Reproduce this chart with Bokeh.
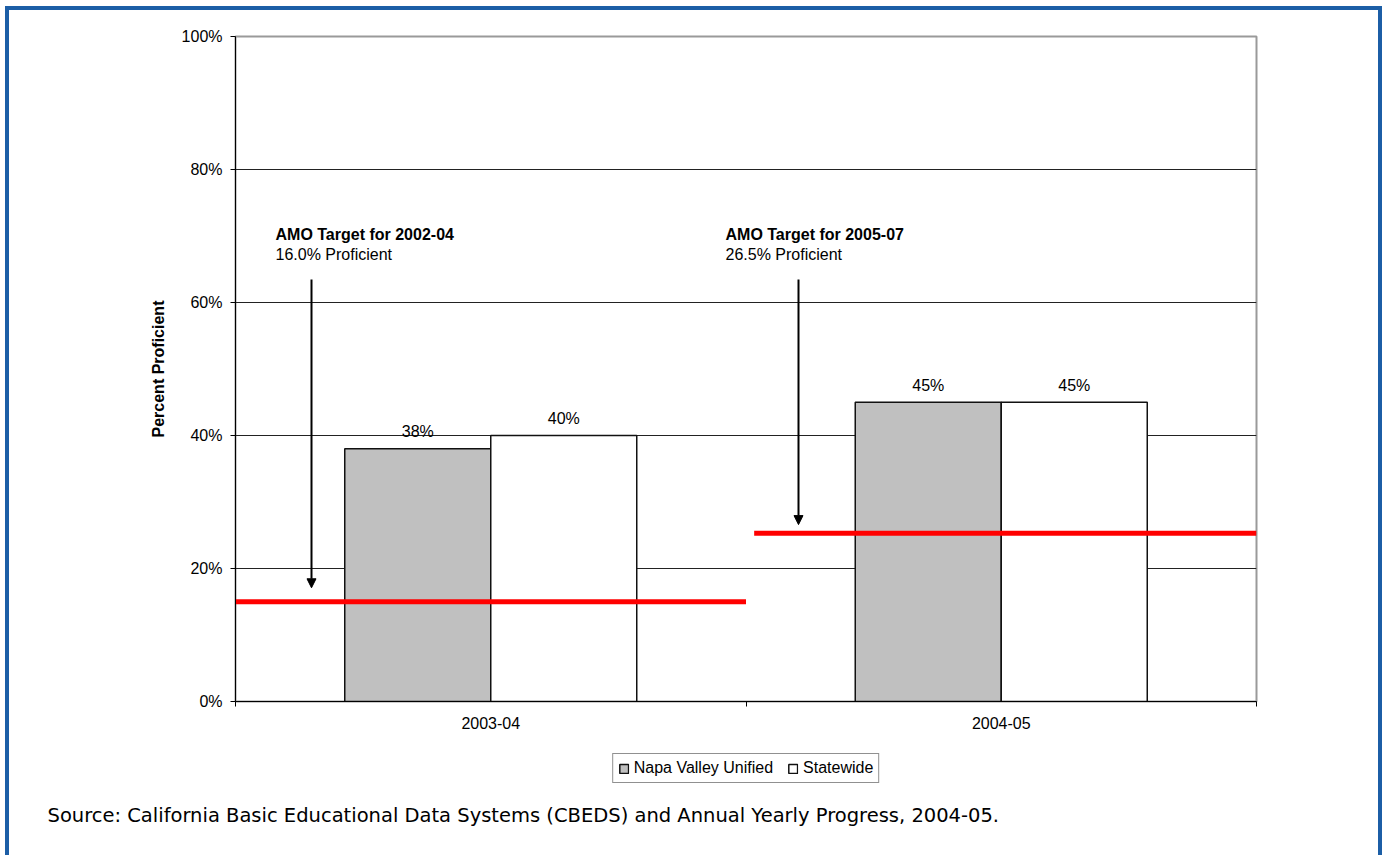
import numpy as np
from bokeh.plotting import figure
from bokeh.layouts import column
from bokeh.models import (Range1d, FixedTicker, Legend, LegendItem, Label, Arrow,
                          NormalHead, Title, Spacer)
from bokeh.core.properties import value
from bokeh.embed import file_html
from bokeh.resources import INLINE

# ---------------- data ----------------
years = ["2003-04", "2004-05"]
series_names = ["Napa Valley Unified", "Statewide"]
series_colors = ["#c0c0c0", "#ffffff"]
napa = [38, 45]
statewide = [40, 45]
amo_targets = [15.0, 25.3]
amo_titles = ["AMO Target for 2002-04", "AMO Target for 2005-07"]
amo_subtitles = ["16.0% Proficient", "26.5% Proficient"]
y_ticks = [0, 20, 40, 60, 80, 100]
y_tick_labels = ["0%", "20%", "40%", "60%", "80%", "100%"]
y_title = "Percent Proficient"
source_note = ("Source: California Basic Educational Data Systems (CBEDS) and "
               "Annual Yearly Progress, 2004-05.")

# ---------------- layout geometry (pixels) ----------------
W, H = 1385, 855
FL, FR, FT, FB = 235, 1256, 36, 701
CHART_H = 745
FOOT_H = 81
NCAT = len(years)
YMAX = 100


def dx(px):
    return (px - FL) / (FR - FL) * NCAT


def dy(py):
    return (FB - py) / (FB - FT) * YMAX


FONT = value("Liberation Sans")
BLUE = "#1c5ea6"

p = figure(width=W, height=CHART_H, output_backend="svg", toolbar_location=None,
           x_range=Range1d(0, NCAT), y_range=Range1d(0, YMAX),
           min_border_left=FL, min_border_right=W - FR,
           min_border_top=FT, min_border_bottom=CHART_H - FB)
p.background_fill_color = "white"
p.border_fill_alpha = 0
p.outline_line_color = "#9a9a9a"
p.outline_line_width = 2

# grid
p.xgrid.visible = False
p.ygrid.ticker = FixedTicker(ticks=y_ticks[1:-1])
p.ygrid.grid_line_color = "#222222"
p.ygrid.grid_line_width = 1

# y axis
yax = p.yaxis[0]
yax.ticker = FixedTicker(ticks=y_ticks)
yax.major_label_overrides = {t: l for t, l in zip(y_ticks, y_tick_labels)}
yax.major_tick_out = 5
yax.major_tick_in = 0
yax.minor_tick_out = 0
yax.minor_tick_in = 0
yax.major_label_standoff = 8
yax.major_label_text_font = "Liberation Sans"
yax.major_label_text_font_size = "16px"
yax.major_label_text_color = "black"
yax.axis_line_color = "black"
yax.major_tick_line_color = "black"
yax.axis_label = y_title
yax.axis_label_text_font = "Liberation Sans"
yax.axis_label_text_font_size = "16px"
yax.axis_label_text_font_style = "bold"
yax.axis_label_text_color = "black"
yax.axis_label_standoff = 12

# x axis: labels at category centres, tick marks at category boundaries
centers = [i + 0.5 for i in range(NCAT)]
xax = p.xaxis[0]
xax.ticker = FixedTicker(ticks=centers, minor_ticks=list(range(NCAT + 1)))
xax.major_label_overrides = {c: y for c, y in zip(centers, years)}
xax.major_tick_out = 0
xax.major_tick_in = 0
xax.minor_tick_out = 5
xax.minor_tick_in = 0
xax.minor_tick_line_color = "black"
xax.major_label_standoff = 10
xax.major_label_text_font = "Liberation Sans"
xax.major_label_text_font_size = "16px"
xax.major_label_text_color = "black"
xax.axis_line_color = "black"

# bars
bar_w = 0.286
napa_x = [c - bar_w / 2 for c in centers]
state_x = [c + bar_w / 2 for c in centers]
p.vbar(x=napa_x, top=napa, width=bar_w, bottom=0,
       fill_color=series_colors[0], line_color="#111111", line_width=1.5)
p.vbar(x=state_x, top=statewide, width=bar_w, bottom=0,
       fill_color=series_colors[1], line_color="#111111", line_width=1.5)

# data labels
for xs, vals in ((napa_x, napa), (state_x, statewide)):
    p.text(x=xs, y=vals, text=[f"{v}%" for v in vals], text_align="center",
           text_baseline="middle", y_offset=-17, text_font=FONT,
           text_font_size="16px", text_color="black")

# AMO target lines
line_start_pad = [0.0, 0.016]
p.segment(x0=[i + line_start_pad[i] for i in range(NCAT)],
          y0=amo_targets,
          x1=[i + 1 for i in range(NCAT)],
          y1=amo_targets, line_color="#ff0000", line_width=5)

# arrows and annotation text
arrow_px = [311, 798]
tip_gap = [2.1, 1.3]
text_px = [275, 725]
for i in range(NCAT):
    p.add_layout(Arrow(end=NormalHead(size=9, fill_color="black", line_color="black"),
                       x_start=dx(arrow_px[i]), y_start=dy(279),
                       x_end=dx(arrow_px[i]), y_end=amo_targets[i] + tip_gap[i],
                       line_color="black", line_width=2))
    p.add_layout(Label(x=dx(text_px[i]), y=dy(234), text=amo_titles[i],
                       text_font="Liberation Sans", text_font_size="16px",
                       text_font_style="bold", text_color="black",
                       text_baseline="alphabetic"))
    p.add_layout(Label(x=dx(text_px[i]), y=dy(254), text=amo_subtitles[i],
                       text_font="Liberation Sans", text_font_size="16px",
                       text_color="black", text_baseline="alphabetic"))

# ---------------- footer: legend + source note ----------------
f = figure(width=W, height=FOOT_H, output_backend="svg", toolbar_location=None,
           x_range=Range1d(0, 1), y_range=Range1d(0, 1),
           x_axis_location=None, y_axis_location=None, min_border=0)
f.grid.visible = False
f.outline_line_color = None
f.background_fill_alpha = 0
f.border_fill_alpha = 0

# legend swatches: renderers that share the bar styles but draw nothing
nan = np.array([np.nan])
leg_r = [f.vbar(x=nan, top=nan, bottom=nan, width=0.1, fill_color=c,
                line_color="#111111", line_width=1.5) for c in series_colors]
legend = Legend(items=[LegendItem(label=n, renderers=[r])
                       for n, r in zip(series_names, leg_r)],
                orientation="horizontal", location="top_center")
legend.border_line_color = "#222222"
legend.border_line_width = 1
legend.background_fill_color = "white"
legend.background_fill_alpha = 1
legend.padding = 5
legend.spacing = 14
legend.margin = 8
legend.glyph_width = 11
legend.glyph_height = 11
legend.label_standoff = 5
legend.label_height = 16
legend.label_text_font = "Liberation Sans"
legend.label_text_font_size = "16px"
legend.label_text_color = "black"
f.add_layout(legend)

f.add_layout(Title(text=source_note, align="left", offset=47 - FL, standoff=0,
                   text_font="DejaVu Sans", text_font_size="19.5px",
                   text_font_style="normal", text_color="black"), "below")

# blue page frame (left, top, right edges) drawn as CSS backgrounds
grad = f"linear-gradient({BLUE},{BLUE})"
page = column(p, f, Spacer(width=W, height=H - CHART_H - FOOT_H), spacing=0,
              styles={
                  "background-color": "white",
                  "background-image": f"{grad}, {grad}, {grad}",
                  "background-position": "5px 6px, 5px 6px, 1378px 6px",
                  "background-size": "4px 100%, 1377px 4px, 4px 100%",
                  "background-repeat": "no-repeat",
              })

open("out.html", "w").write(file_html(page, INLINE))
